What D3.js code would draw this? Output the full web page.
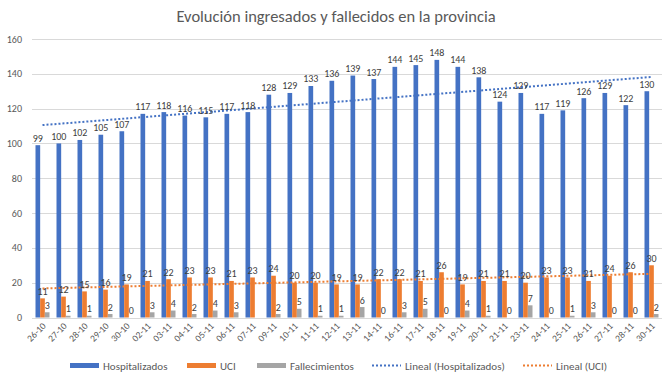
<!DOCTYPE html>
<html lang="es">
<head>
  <meta charset="UTF-8">
  <title>Evolución ingresados y fallecidos</title>
  <script src="https://d3js.org/d3.v7.min.js"></script>
  <style>
    body { margin: 0; background: #fff; }
    svg { font-family: Carlito, Lato, "Liberation Sans", sans-serif; }
    .grid line { stroke: #d9d9d9; stroke-width: 1; }
    .lbl { font-size: 10px; fill: #404040; text-anchor: middle; }
    .tick-y { font-size: 10px; fill: #595959; text-anchor: end; }
    .tick-x { font-size: 9.5px; fill: #595959; text-anchor: end; }
    .legend text { font-size: 11px; fill: #595959; }
  </style>
</head>
<body>
<svg width="670" height="377"></svg>
<script>
const categories = ["26-10","27-10","28-10","29-10","30-10","02-11","03-11","04-11","05-11","06-11",
  "07-11","09-11","10-11","11-11","12-11","13-11","14-11","16-11","17-11","18-11",
  "19-11","20-11","21-11","23-11","24-11","25-11","26-11","27-11","28-11","30-11"];
const hospitalizados = [99,100,102,105,107,117,118,116,115,117,118,128,129,133,136,139,137,144,145,148,144,138,124,129,117,119,126,129,122,130];
const uci = [11,12,15,16,19,21,22,23,23,21,23,24,20,20,19,19,22,22,21,26,19,21,21,20,23,23,21,24,26,30];
// 07-11 has no value in the source (no label shown)
const fallecimientos = [3,1,1,2,0,3,4,2,4,3,null,2,5,1,1,6,0,3,5,0,4,1,0,7,0,1,3,0,0,2];
const yTicks = [0,20,40,60,80,100,120,140,160];

const series = [
  { name: "Hospitalizados", values: hospitalizados, color: "#4472C4" },
  { name: "UCI", values: uci, color: "#ED7D31" },
  { name: "Fallecimientos", values: fallecimientos, color: "#A5A5A5" }
];

const svg = d3.select("svg");
const plotLeft = 32, plotRight = 662, plotTop = 39, plotBottom = 317.5;

const x = d3.scaleBand().domain(categories).range([plotLeft, plotRight]).padding(0);
const x1 = d3.scaleBand().domain(series.map(s => s.name))
  .range([3.5, x.bandwidth() - 3.5]).padding(0);
const y = d3.scaleLinear().domain([0, 160]).range([plotBottom, plotTop]);

// title
svg.append("text")
  .attr("x", 336).attr("y", 22)
  .attr("text-anchor", "middle")
  .style("font-size", "16.5px").style("fill", "#595959")
  .text("Evolución ingresados y fallecidos en la provincia");

// gridlines
svg.append("g").attr("class", "grid")
  .selectAll("line").data(yTicks).enter().append("line")
  .attr("x1", plotLeft).attr("x2", plotRight)
  .attr("y1", d => Math.round(y(d)) + 0.5).attr("y2", d => Math.round(y(d)) + 0.5);

svg.append("g").selectAll("text").data(yTicks).enter().append("text")
  .attr("class", "tick-y")
  .attr("x", 22).attr("y", d => y(d) + 3.5)
  .text(d => d);

// bars
series.forEach(s => {
  const pts = s.values.map((v, i) => ({ v, c: categories[i] })).filter(p => p.v != null);
  svg.append("g").selectAll("rect").data(pts).enter().append("rect")
    .attr("x", p => x(p.c) + x1(s.name))
    .attr("width", x1.bandwidth())
    .attr("y", p => y(p.v))
    .attr("height", p => y(0) - y(p.v))
    .attr("fill", s.color);
});

// trendlines (least squares, like Excel's linear trend)
function trend(vals) {
  const n = vals.length;
  const mx = d3.mean(vals, (d, i) => i), my = d3.mean(vals);
  let num = 0, den = 0;
  vals.forEach((v, i) => { num += (i - mx) * (v - my); den += (i - mx) * (i - mx); });
  const b = num / den, a = my - b * mx;
  return [0, n - 1].map(i => [x(categories[i]) + x.bandwidth() / 2, y(a + b * i)]);
}
[[hospitalizados, "#4472C4"], [uci, "#ED7D31"]].forEach(([vals, col]) => {
  svg.append("path")
    .attr("d", d3.line()(trend(vals)))
    .attr("stroke", col).attr("stroke-width", 2)
    .attr("stroke-dasharray", "2,2").attr("fill", "none");
});

// data labels
series.forEach(s => {
  const pts = s.values.map((v, i) => ({ v, c: categories[i] })).filter(p => p.v != null);
  svg.append("g").selectAll("text").data(pts).enter().append("text")
    .attr("class", "lbl")
    .attr("x", p => x(p.c) + x1(s.name) + x1.bandwidth() / 2)
    .attr("y", p => y(p.v) - 3.5)
    .text(p => p.v);
});

// x axis labels
svg.append("g").selectAll("text").data(categories).enter().append("text")
  .attr("class", "tick-x")
  .attr("transform", d => `translate(${x(d) + x.bandwidth() / 2 + 4},${plotBottom + 9}) rotate(-45)`)
  .text(d => d);

// legend
const legend = [
  { name: "Hospitalizados", color: "#4472C4", type: "rect", x: 70 },
  { name: "UCI", color: "#ED7D31", type: "rect", x: 187 },
  { name: "Fallecimientos", color: "#A5A5A5", type: "rect", x: 257 },
  { name: "Lineal (Hospitalizados)", color: "#4472C4", type: "line", x: 372 },
  { name: "Lineal (UCI)", color: "#ED7D31", type: "line", x: 523 }
];
const lg = svg.append("g").attr("class", "legend");
legend.forEach(l => {
  if (l.type === "rect") {
    lg.append("rect").attr("x", l.x).attr("y", 363).attr("width", 29).attr("height", 5).attr("fill", l.color);
  } else {
    lg.append("line").attr("x1", l.x).attr("x2", l.x + 29).attr("y1", 365.5).attr("y2", 365.5)
      .attr("stroke", l.color).attr("stroke-width", 2).attr("stroke-dasharray", "2,2");
  }
  lg.append("text").attr("x", l.x + 33).attr("y", 369.5).text(l.name);
});
</script>
</body>
</html>
